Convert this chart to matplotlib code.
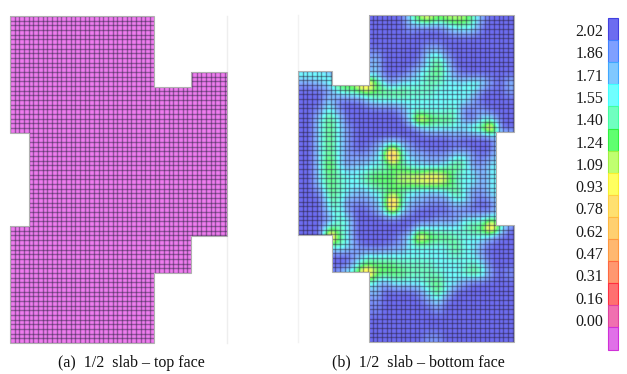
import numpy as np
import matplotlib
matplotlib.use("Agg")
import matplotlib.pyplot as plt
from matplotlib.patches import Polygon
from matplotlib.colors import LinearSegmentedColormap

# colour scale, top to bottom
scale_labels = ["2.02", "1.86", "1.71", "1.55", "1.40", "1.24", "1.09",
                "0.93", "0.78", "0.62", "0.47", "0.31", "0.16", "0.00"]
scale_colors = ["#6c6cf0", "#7fa0ff", "#80c8ff", "#70ffff", "#70ffc0",
                "#60ff70", "#c0ff70", "#ffff60", "#ffe070", "#ffd070",
                "#ffb870", "#ff9870", "#ff7070", "#f070b0", "#e070e8"]
scale_edges = ["#4040e0", "#4080ff", "#40a8ff", "#40ffff", "#40ffa0",
               "#30f040", "#a0f040", "#f8f030", "#ffd040", "#ffb840",
               "#ff9840", "#ff6840", "#ff3040", "#e040a0", "#d030d8"]

captions = ["(a)  1/2  slab \u2013 top face", "(b)  1/2  slab \u2013 bottom face"]

# slab outlines in image pixels
top_outline = [(10, 16), (154, 16), (154, 87), (191, 87), (191, 72), (227, 72),
               (227, 236), (191, 236), (191, 273), (154, 273), (154, 343),
               (10, 343), (10, 226), (29, 226), (29, 133), (10, 133)]
bottom_outline = [(369, 15), (514, 15), (514, 132), (496, 132), (496, 225),
                  (514, 225), (514, 342), (369, 342), (369, 272), (332, 272),
                  (332, 235), (298, 235), (298, 71), (332, 71), (332, 85),
                  (369, 85)]

# bottom face, colour band read per coarse cell (0 = blue ... e = violet)
bottom_rows = [
    "00000000000 0 3 6 7 5 6 6 6 4 1 0 0 0",
    "000000000000 1 0 0 0 1 3 3 3 0 000",
    "00000000000000 00 00000000",
    "00000000 0 00000 11 00000000",
    "00000000 20 000 0341 0000000",
    "00000000 30 00 013530 000000",
    "4443 0000 30 00 1345310 00000",
    "1123 667a 63 1333 44 333 431 02",
    "00013446 5555 444 33333 0001",
    "00030001 33333333333 1 0000",
    "00141000 0001 33333 4 0110 00",
    "003530 00000 0 39 6554 103300",
    "0035310 00000 01 33333 55 b 00",
    "0035310 00000000 00100 0033",
    "0035310 0136 31 0000000 0 0 33",
    "00353111 24d4 22 111 33 101 33",
    "003631223 354 32223 54113 33",
    "003543 345556 66 77 6 4 33 1 3 33",
    "003543 345556 67 77 6 4 33 1 3 33",
    "001543 2234 54 32223 53113 33",
    "000441 1123 b4 22 111 33 101 33",
    "000341 0013 93 1 0000 100 00 33",
    "000143 0 000000 00111 3335 33",
    "0005430 00000 0 33333 4 55 b 40",
    "000b530 000 01 3 9655 4 333 100",
    "000 3431 000 11 33333 5 33 10 00",
    "000 0001 3333333333 4 33 10 00",
    "000 0003 5555 4444 3333 43000",
    "000 1145 b 6555 4444 33 454 101",
    "0000000 33 1 3333 45 33 10 0000",
    "00000000 30 000 13530 000000",
    "00000000 1 00000 130 0000000",
    "00000000 1 00000 01 00000000",
    "00000000 0 000000000000000",
    "00000000 0 000000000000000",
    "00000000 0 00000 11 00000000",
]
bottom_field = np.array([[int(c, 16) for c in r.replace(" ", "")] for r in bottom_rows], float)

CELL = 4.67
GRID = "#2a2040"

plt.rcParams["font.family"] = ["Liberation Serif", "DejaVu Serif"]

fig = plt.figure(figsize=(6.27, 3.74), dpi=100, facecolor="white")
ax = fig.add_axes([0, 0, 1, 1])
ax.set_xlim(0, 627)
ax.set_ylim(374, 0)
ax.axis("off")


def mesh(outline, x_start, y_start):
    # clipped element grid plus the grey border
    xs, ys = zip(*outline)
    patch = Polygon(outline, closed=True, fc="none", ec="#b0b0b0", lw=0.8, zorder=4)
    ax.add_patch(patch)
    x_lines = np.arange(x_start, max(xs) + 1, CELL)
    y_lines = np.arange(y_start, max(ys) + 1, CELL)
    v = ax.vlines(x_lines, min(ys), max(ys), color=GRID, lw=1.0, alpha=0.45, zorder=3)
    h = ax.hlines(y_lines, min(xs), max(xs), color=GRID, lw=1.0, alpha=0.45, zorder=3)
    v.set_clip_path(patch)
    h.set_clip_path(patch)


# (a) top face, one colour
ax.add_patch(Polygon(top_outline, closed=True, fc="#ee7cee", ec="none", zorder=1))
mesh(top_outline, 10, 16)

# (b) bottom face
cmap = LinearSegmentedColormap.from_list("slab", scale_colors, N=256)
im = ax.imshow(bottom_field, extent=(298, 514, 342, 15), cmap=cmap, vmin=0, vmax=14,
               interpolation="bicubic", aspect="auto", zorder=1)
im.set_clip_path(Polygon(bottom_outline, closed=True, transform=ax.transData))
ax.set_xlim(0, 627)
ax.set_ylim(374, 0)
mesh(bottom_outline, 298, 15)

# faint page lines next to the panels
ax.plot([227, 227], [16, 72], color="#eeeeee", lw=1, zorder=0)
ax.plot([227, 227], [236, 343], color="#eeeeee", lw=1, zorder=0)
ax.plot([298, 298], [15, 71], color="#f2f2f2", lw=1, zorder=0)
ax.plot([298, 298], [235, 342], color="#f2f2f2", lw=1, zorder=0)

# colour scale
band = 22.1
for i, (c, e) in enumerate(zip(scale_colors, scale_edges)):
    ax.bar(613, band, width=10, bottom=18 + i * band, color=c, edgecolor=e, lw=0.8, zorder=2)
for i, lab in enumerate(scale_labels):
    ax.text(603.5, 32 + i * 22.3, lab, ha="right", va="center", fontsize=11.5, color="#1a1a1a")

ax.text(131, 363, captions[0], ha="center", va="center", fontsize=11.5, color="#111111")
ax.text(418.5, 362.5, captions[1], ha="center", va="center", fontsize=11.5, color="#111111")

fig.savefig("out.png", dpi=100)
